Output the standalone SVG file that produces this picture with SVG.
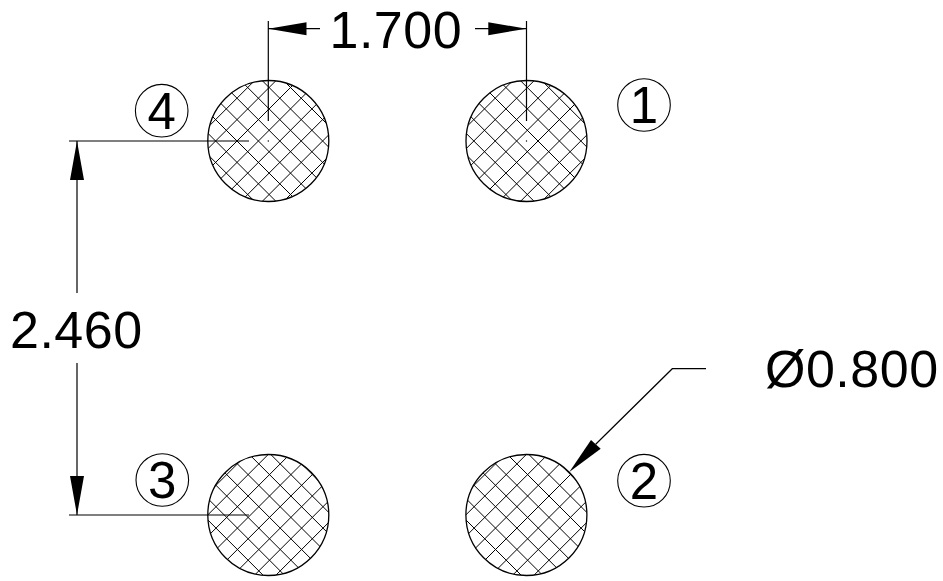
<svg xmlns="http://www.w3.org/2000/svg" width="943" height="581" viewBox="0 0 943 581">
<style>
text{font-family:"Liberation Sans",Arial,sans-serif;font-size:51px;fill:#000}
.dim{font-size:52px;letter-spacing:.5px}
.ln{fill:none;stroke:#000;stroke-width:1.2}
.pad{fill:none;stroke:#000;stroke-width:1.3}
.hatch{fill:none;stroke:#000;stroke-width:1}
.bub{fill:none;stroke:#000;stroke-width:1.1}
.dot{fill:#000}
.ah{fill:#000;stroke:none}
.c{text-anchor:middle}
</style>
<defs>
<clipPath id="disc"><circle r="60.5"/></clipPath>
<path id="hatchTop" class="hatch" d="M-62 -12.1L62 -136.1M-62 9.3L62 -114.7M-62 30.7L62 -93.3M-62 52.1L62 -71.9M-62 73.5L62 -50.5M-62 94.9L62 -29.1M-62 116.3L62 -7.7M-62 137.7L62 13.7M-62 12.1L62 136.1M-62 -9.3L62 114.7M-62 -30.7L62 93.3M-62 -52.1L62 71.9M-62 -73.5L62 50.5M-62 -94.9L62 29.1M-62 -116.3L62 7.7M-62 -137.7L62 -13.7"/>
<path id="hatchBot" class="hatch" d="M-62 -20L62 -144M-62 1.4L62 -122.6M-62 22.8L62 -101.2M-62 44.2L62 -79.8M-62 65.6L62 -58.4M-62 87L62 -37M-62 108.4L62 -15.6M-62 129.8L62 5.8M-62 3.4L62 127.4M-62 -18L62 106M-62 -39.4L62 84.6M-62 -60.8L62 63.2M-62 -82.2L62 41.8M-62 -103.6L62 20.4M-62 -125L62 -1M-62 -146.4L62 -22.4"/>
</defs>
<rect width="943" height="581" fill="#fff"/>
<g id="pad-4" transform="translate(268.3 141)"><use href="#hatchTop" clip-path="url(#disc)"/><circle class="pad" r="60.5"/><circle class="dot" r="0.7"/></g>
<g id="pad-1" transform="translate(526.5 141)"><use href="#hatchTop" clip-path="url(#disc)"/><circle class="pad" r="60.5"/><circle class="dot" r="0.7"/></g>
<g id="pad-3" transform="translate(268.3 515)"><use href="#hatchBot" clip-path="url(#disc)"/><circle class="pad" r="60.5"/></g>
<g id="pad-2" transform="translate(526.4 515)"><use href="#hatchBot" clip-path="url(#disc)"/><circle class="pad" r="60.5"/></g>
<g id="label-4"><circle class="bub" cx="161.7" cy="110.7" r="26.3"/><text class="c" x="161.7" y="129">4</text></g>
<g id="label-1"><circle class="bub" cx="644" cy="105" r="26.3"/><text class="c" x="644" y="123">1</text></g>
<g id="label-3"><circle class="bub" cx="162.3" cy="480" r="26.3"/><text class="c" x="162.3" y="498">3</text></g>
<g id="label-2"><circle class="bub" cx="644" cy="480.7" r="26.3"/><text class="c" x="644" y="499">2</text></g>
<g id="connectors">
<path class="ln" d="M268.3 21V121M526.5 21V121M268.3 28.7H320M475 28.7H526.5"/>
<path class="ah" d="M268.3 28.7L306.5 22.2V35.2ZM526.5 28.7L488.3 22.2V35.2Z"/>
<path class="ln" d="M69 141H249M69 515H249M77 141V293M77 363V515"/>
<path class="ah" d="M77 141L70 180H84ZM77 515L70 476H84Z"/>
<path class="ln" d="M706 368.7H672.3L595.7 444.3"/>
<path class="ah" d="M569.3 472L591 440L600.7 448.7Z"/>
</g>
<g id="dimensions">
<text class="dim" x="329.5" y="47.5">1.700</text>
<text class="dim" x="10" y="347.5">2.460</text>
<text class="dim" x="765" y="386.5">Ø0.800</text>
</g>
</svg>
